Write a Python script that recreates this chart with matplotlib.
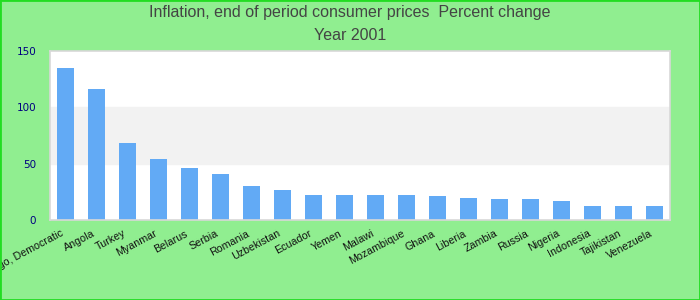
import numpy as np
import matplotlib as mpl
mpl.use('Agg')
import matplotlib.pyplot as plt
from matplotlib.patches import Rectangle
from matplotlib.transforms import ScaledTranslation

countries = ['Congo, Democratic', 'Angola', 'Turkey', 'Myanmar', 'Belarus', 'Serbia',
             'Romania', 'Uzbekistan', 'Ecuador', 'Yemen', 'Malawi', 'Mozambique',
             'Ghana', 'Liberia', 'Zambia', 'Russia', 'Nigeria', 'Indonesia',
             'Tajikistan', 'Venezuela']
inflation = [135.0, 116.1, 68.5, 53.8, 46.1, 40.7, 30.3, 26.6, 22.4, 22.3,
             22.3, 22.2, 21.3, 19.5, 18.7, 18.6, 16.9, 12.5, 12.4, 12.3]
yticks = [0, 50, 100, 150]

fig = plt.figure(figsize=(7, 3), dpi=100, facecolor='#90ee90')
ax = fig.add_axes([50/700, 80/300, 620/700, 169/300])
ax.set_facecolor('white')

# alternating horizontal bands
ax.axhspan(50, 100, color='#f2f2f2', zorder=0)

x = np.arange(len(countries))
ax.bar(x, inflation, width=0.55, color='#62aaf5', zorder=2)

ax.set_xlim(-0.5, len(countries) - 0.5)
ax.set_ylim(0, 150)
ax.set_yticks(yticks)
ax.set_yticklabels([str(v) for v in yticks], color='#000080', fontsize=7.5,
                   family='DejaVu Sans')
ax.tick_params(axis='y', length=0, pad=10)
ax.set_xticks(x)
ax.set_xticklabels(countries, rotation=28, ha='right', rotation_mode='anchor',
                   fontsize=7.7, family='Liberation Sans', color='#111111')
ax.tick_params(axis='x', length=0, pad=6)
shift = ScaledTranslation(-5/100, 0, fig.dpi_scale_trans)
for lbl in ax.get_xticklabels():
    lbl.set_transform(lbl.get_transform() + shift)

for s in ax.spines.values():
    s.set_color('#d8d8d8')
    s.set_linewidth(1.2)

fig.text(0.5, 1 - 13/300, 'Inflation, end of period consumer prices  Percent change',
         ha='center', va='center', fontsize=11.5, color='#444444', family='Liberation Sans')
fig.text(0.5, 1 - 36/300, 'Year 2001', ha='center', va='center', fontsize=11.5,
         color='#444444', family='Liberation Sans')

fig.patches.append(Rectangle((0, 0), 1, 1, transform=fig.transFigure, fill=False,
                             edgecolor='#22dd22', linewidth=2))

fig.savefig('out.png', dpi=100, facecolor=fig.get_facecolor())
